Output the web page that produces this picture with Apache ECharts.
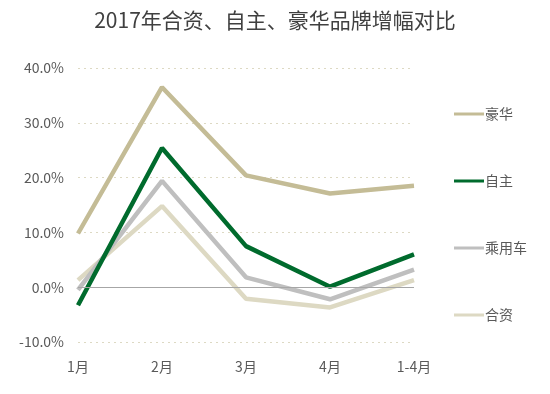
<!DOCTYPE html>
<html><head><meta charset="utf-8">
<script src="https://cdn.jsdelivr.net/npm/echarts@6/dist/echarts.min.js"></script>
<style>html,body{margin:0;padding:0;background:#fff}#c{width:550px;height:394px}</style>
</head><body><div id="c"></div>
<script>
const categories = ['1月','2月','3月','4月','1-4月'];
const luxury = [9.8, 36.5, 20.4, 17.1, 18.5];
const domestic = [-3.3, 25.4, 7.5, 0.1, 6.0];
const passenger = [-0.5, 19.4, 1.8, -2.2, 3.2];
const jointVenture = [1.3, 14.8, -2.1, -3.7, 1.3];
const seriesNames = ['豪华','自主','乘用车','合资'];
const colors = ['#C4BC96','#006B2D','#BFBFBF','#DDD9C3'];
const font = '"Noto Sans CJK SC", sans-serif';
const chart = echarts.init(document.getElementById('c'));
const mk = (name, data, color, z) => ({
  name, type:'line', data, symbol:'none', z,
  lineStyle:{color, width:4.5}, itemStyle:{color},
  animation:false
});
const s = [
  mk(seriesNames[3], jointVenture, colors[3], 2),
  mk(seriesNames[2], passenger, colors[2], 3),
  mk(seriesNames[1], domestic, colors[1], 4),
  mk(seriesNames[0], luxury, colors[0], 5)
];
s[0].markLine = {silent:true, symbol:'none', label:{show:false},
  lineStyle:{color:'#A6A6A6', width:1, type:'solid'}, data:[{yAxis:0}], animation:false};
chart.setOption({
  animation:false,
  textStyle:{fontFamily:font},
  title:{text:'2017年合资、自主、豪华品牌增幅对比', left:'center', top:5,
    textStyle:{fontSize:21, fontWeight:'normal', color:'#404040', fontFamily:font}},
  grid:{left:78, right:136, top:68, bottom:52},
  legend:{orient:'vertical', left:449, top:102, itemGap:53, itemWidth:30, itemHeight:3,
    icon:'rect', data:seriesNames,
    textStyle:{fontSize:14, color:'#595959', fontFamily:font, padding:[0,0,0,-4]}},
  xAxis:{type:'category', data:categories, boundaryGap:false,
    axisLine:{show:false}, axisTick:{show:false},
    axisLabel:{color:'#595959', fontSize:14, margin:18, fontFamily:font}},
  yAxis:{type:'value', min:-10, max:40, interval:10,
    axisLine:{show:false}, axisTick:{show:false},
    axisLabel:{color:'#595959', fontSize:14, margin:14, fontFamily:font,
      formatter: v => v.toFixed(1) + '%'},
    splitLine:{lineStyle:{color:'#DDD9C3', type:[2,4], width:1}}},
  series:s
});
</script></body></html>
